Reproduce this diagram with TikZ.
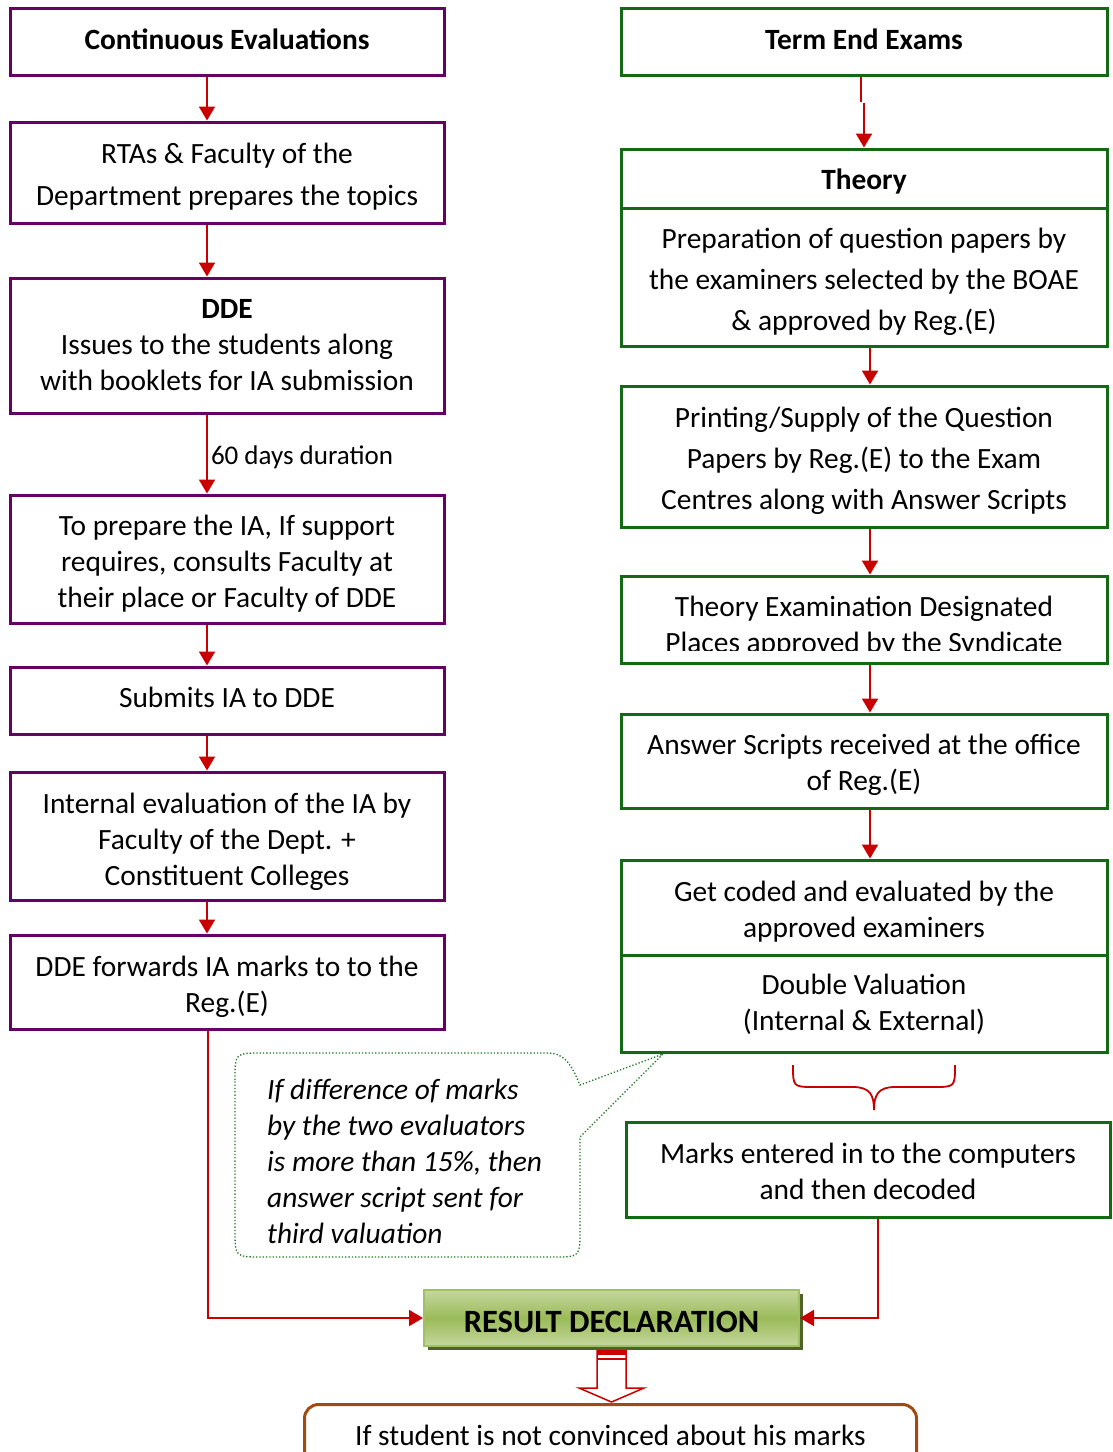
\documentclass[tikz,border=0pt]{standalone}
\usepackage{fontspec}
\setmainfont{Carlito}
\usetikzlibrary{arrows.meta,shadows}
\definecolor{purp}{RGB}{102,0,102}
\definecolor{grn}{RGB}{20,105,20}
\definecolor{arred}{RGB}{200,0,0}
\definecolor{brn}{RGB}{160,75,15}
\definecolor{cog}{RGB}{30,120,30}
\definecolor{rdl}{RGB}{196,215,158}
\definecolor{rdm}{RGB}{155,187,89}
\definecolor{rdb}{RGB}{160,192,100}
\definecolor{rdsh}{RGB}{79,98,40}
\tikzset{
  txt/.style={font=\fontsize{29.4}{36}\selectfont, align=center, inner sep=0pt},
  wtxt/.style={font=\fontsize{29.4}{41}\selectfont, align=center, inner sep=0pt},
  ttxt/.style={font=\fontsize{29.4}{42}\selectfont, align=center, inner sep=0pt},
  pbox/.style={draw=purp, line width=3pt, minimum width=434pt, inner sep=0pt},
  gbox/.style={draw=grn, line width=3pt, minimum width=486pt, inner sep=0pt},
  arr/.style={draw=arred, line width=2pt, -{Triangle[length=14pt,width=16pt]}},
  redline/.style={draw=arred, line width=2pt},
  rdbox/.style={draw=rdb, line width=2pt, top color=rdl, bottom color=rdl, middle color=rdm,
     minimum width=375pt, minimum height=56pt, inner sep=0pt,
     drop shadow={shadow xshift=4pt, shadow yshift=-4pt, fill=rdsh, opacity=1}},
}
\begin{document}
\begin{tikzpicture}[x=1pt,y=-1pt]
\useasboundingbox (0,0) rectangle (1112,1452);
% ---------------- left column
\node[pbox, minimum height=67pt] (ce) at (227,41.5) {};
\node[txt] (ce-t) at (227,39.5) {\textbf{Continuous Evaluations}};
\node[pbox, minimum height=101pt] (rtas) at (227,172.5) {};
\node[ttxt] (rtas-t) at (227,176.5) {RTAs \& Faculty of the\\Department prepares the topics};
\node[pbox, minimum height=135pt] (dde) at (227,345.5) {};
\node[txt] (dde-t) at (227,345) {\textbf{DDE}\\Issues to the students along\\with booklets for IA submission};
\node[pbox, minimum height=128pt] (prep) at (227,559) {};
\node[txt] (prep-t) at (227,564) {To prepare the IA, If support\\requires, consults Faculty at\\their place or Faculty of DDE};
\node[pbox, minimum height=67pt] (sub) at (227,700.5) {};
\node[txt] (sub-t) at (227,697.5) {Submits IA to DDE};
\node[pbox, minimum height=128pt] (int) at (227,836) {};
\node[txt] (int-t) at (227,842) {Internal evaluation of the IA by\\Faculty of the Dept. +\\Constituent Colleges};
\node[pbox, minimum height=94pt] (fwd) at (227,982) {};
\node[txt] (fwd-t) at (227,987) {DDE forwards IA marks to to the\\Reg.(E)};
\draw[arr] ([xshift=-20pt]ce.south) -- ([xshift=-20pt]rtas.north);
\draw[arr] ([xshift=-20pt]rtas.south) -- ([xshift=-20pt]dde.north);
\draw[arr] ([xshift=-20pt]dde.south) -- node[right, inner sep=3pt, yshift=-3pt, font=\fontsize{27}{30}\selectfont] (dur) {60 days duration} ([xshift=-20pt]prep.north);
\draw[arr] ([xshift=-20pt]prep.south) -- ([xshift=-20pt]sub.north);
\draw[arr] ([xshift=-20pt]sub.south) -- ([xshift=-20pt]int.north);
\draw[arr] ([xshift=-20pt]int.south) -- ([xshift=-20pt]fwd.north);
% ---------------- right column
\node[gbox, minimum height=67pt] (te) at (864,41.5) {};
\node[txt] (te-t) at (864,39.5) {\textbf{Term End Exams}};
\node[gbox, minimum height=59pt] (th) at (864,178.5) {};
\node[txt] (th-t) at (864,181.5) {\textbf{Theory}};
\node[gbox, minimum height=138pt] (prq) at (864,277) {};
\node[wtxt] (prq-t) at (864,282) {Preparation of question papers by\\the examiners selected by the BOAE\\\& approved by Reg.(E)};
\node[gbox, minimum height=141pt] (prn) at (864,456.5) {};
\node[wtxt] (prn-t) at (864,461) {Printing/Supply of the Question\\Papers by Reg.(E) to the Exam\\Centres along with Answer Scripts};
\node[gbox, minimum height=87pt] (tex) at (864,619.5) {};
\begin{scope}
\clip (623,578) rectangle (1105,650);
\node[txt] (tex-t) at (864,627) {Theory Examination Designated\\Places approved by the Syndicate};
\end{scope}
\node[gbox, minimum height=94pt] (ans) at (864,761) {};
\node[txt] (ans-t) at (864,765) {Answer Scripts received at the office\\of Reg.(E)};
\node[gbox, minimum height=95pt] (gc) at (864,907.5) {};
\node[txt] (gc-t) at (864,911.5) {Get coded and evaluated by the\\approved examiners};
\node[gbox, minimum height=97pt] (dv) at (864,1003.5) {};
\node[txt] (dv-t) at (864,1004.5) {Double Valuation\\(Internal \& External)};
\node[gbox, minimum width=484pt, minimum height=95pt] (mk) at (868,1169.5) {};
\node[txt] (mk-t) at (868,1171.5) {Marks entered in to the computers\\and then decoded};
\coordinate (tj1) at (861,102);
\coordinate (tj2) at (864,103);
\draw[redline] ([xshift=-3pt]te.south) -- (tj1);
\draw[arr] (tj2) -- (th.north);
\draw[arr] ([xshift=6pt]prq.south) -- ([xshift=6pt]prn.north);
\draw[arr] ([xshift=6pt]prn.south) -- ([xshift=6pt]tex.north);
\draw[arr] ([xshift=6pt]tex.south) -- ([xshift=6pt]ans.north);
\draw[arr] ([xshift=6pt]ans.south) -- ([xshift=6pt]gc.north);
% brace
\draw[draw=arred, line width=1.8pt] (793,1065) .. controls (793,1087) .. (815,1087) -- (853,1087) .. controls (870,1087) and (874,1095) .. (874,1110);
\draw[draw=arred, line width=1.8pt] (955,1065) .. controls (955,1087) .. (933,1087) -- (895,1087) .. controls (878,1087) and (874,1095) .. (874,1110);
% callout
\coordinate (cotip) at (663,1054);
\draw[draw=cog, line width=1.3pt, dotted] (235,1080) .. controls (235,1053) .. (262,1053) -- (548,1053) .. controls (568,1053) and (574,1072) .. (580,1085) -- (cotip) -- (580,1137) -- (580,1230) .. controls (580,1257) .. (553,1257) -- (262,1257) .. controls (235,1257) .. (235,1230) -- cycle;
\begin{scope}
\clip (236,1054) rectangle (579,1243);
\node[font=\itshape\fontsize{29.4}{36}\selectfont, align=left, anchor=north west, inner sep=0pt] (cot) at (267,1079) {If difference of marks\\by the two evaluators\\is more than 15\%, then\\answer script sent for\\third valuation};
\end{scope}
% result
\node[rdbox] (res) at (611.5,1318) {};
\node[font=\bfseries\fontsize{32.5}{36}\selectfont, inner sep=0pt] (res-t) at (611.5,1322) {RESULT DECLARATION};
\draw[arr] ([xshift=-19pt]fwd.south) |- (res.west);
\draw[arr] ([xshift=10pt]mk.south) |- (res.east);
% hollow arrow
\draw[draw=arred, line width=1.5pt, fill=white] (597,1350) -- (597,1388) -- (579,1388) -- (611.5,1402) -- (644,1388) -- (626,1388) -- (626,1350);
\fill[arred] (597,1350) rectangle (626,1355);
\draw[draw=arred, line width=1.2pt] (597,1359) -- (626,1359);
% bottom box
\node[draw=brn, line width=3pt, rounded corners=14pt, minimum width=612pt, minimum height=100pt, anchor=north, inner sep=0pt] (nc) at (610.5,1403) {};
\node[txt] (nct) at (610.5,1435) {If student is not convinced about his marks};
\end{tikzpicture}
\end{document}
